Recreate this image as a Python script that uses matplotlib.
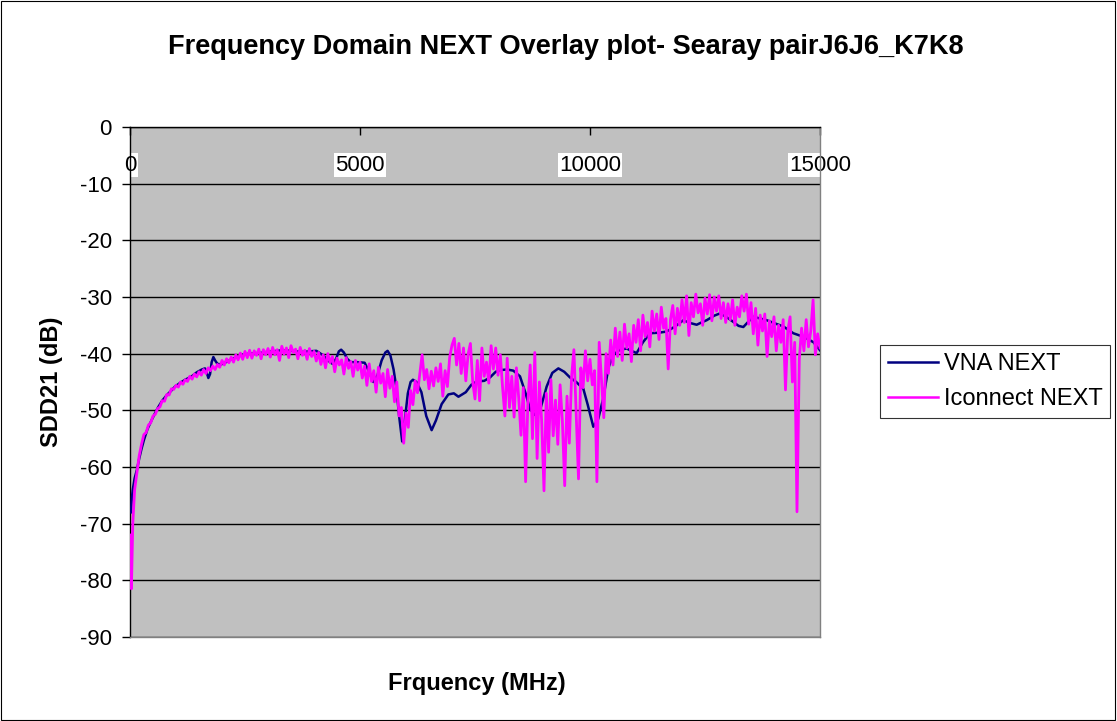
"""
Frequency Domain NEXT overlay: VNA measurement vs Iconnect simulation.
"""

import numpy as np
import matplotlib.pyplot as plt
from matplotlib.patches import Rectangle


vna_freq = [20, 40, 60, 100, 150, 200, 250, 300, 380, 471, 550, 616, 700,
            800, 900, 978, 1100, 1200, 1341, 1450, 1560, 1630, 1670, 1703,
            1740, 1775, 1812, 1850, 1900, 1980, 2065, 2200, 2428, 2600, 2790,
            3000, 3297, 3500, 3732, 3900, 4050, 4200, 4300, 4400, 4480, 4540,
            4590, 4650, 4720, 4800, 4950, 5100, 5200, 5290, 5380, 5470, 5550,
            5600, 5660, 5730, 5790, 5850, 5917, 5970, 6040, 6100, 6150, 6230,
            6335, 6440, 6557, 6650, 6775, 6920, 7040, 7140, 7300, 7420, 7540,
            7700, 7826, 7950, 8043, 8200, 8333, 8478, 8600, 8696, 8800, 8913,
            9000, 9058, 9180, 9312, 9440, 9565, 9700, 9855, 9950, 10072,
            10180, 10290, 10400, 10507, 10650, 10797, 10900, 11014, 11150,
            11304, 11500, 11667, 11850, 12029, 12180, 12319, 12450, 12536,
            12700, 12826, 12980, 13116, 13230, 13333, 13450, 13551, 13700,
            13841, 14000, 14203, 14420, 14560, 14710, 14860, 15000]
vna_db = [-68.0, -65.5, -64.0, -62.0, -60.5, -58.5, -56.8, -55.3, -53.3, -51.7,
          -50.4, -49.4, -48.3, -47.3, -46.5, -45.8, -45.1, -44.6, -44.0, -43.3,
          -42.8, -42.6, -43.4, -44.3, -43.6, -41.5, -40.6, -41.2, -41.8, -41.9,
          -41.6, -41.0, -40.2, -40.0, -39.9, -39.7, -39.4, -39.5, -39.7, -39.6,
          -39.5, -40.3, -41.2, -41.8, -40.9, -39.6, -39.3, -39.8, -40.9, -41.5,
          -41.5, -41.6, -43.2, -45.0, -43.8, -41.2, -39.8, -39.5, -40.3, -42.8,
          -46.0, -51.0, -55.5, -52.0, -47.0, -45.0, -44.6, -45.0, -46.8, -51.0,
          -53.5, -51.8, -48.9, -47.2, -47.0, -47.6, -46.8, -45.5, -44.9, -44.8,
          -44.2, -43.2, -42.9, -42.8, -43.0, -44.0, -47.0, -49.8, -50.8, -50.0,
          -47.5, -45.8, -43.4, -42.6, -43.2, -44.2, -45.0, -46.2, -49.0, -52.9,
          -51.5, -47.8, -42.5, -40.2, -39.3, -39.1, -39.5, -39.9, -38.0, -36.4,
          -36.3, -36.1, -35.2, -34.1, -34.6, -34.9, -34.4, -34.1, -33.3, -32.9,
          -33.6, -34.4, -35.1, -35.3, -34.3, -33.5, -33.8, -34.1, -34.6, -35.2,
          -36.4, -36.8, -37.3, -38.0, -39.4]

# Iconnect NEXT (noisy simulated curve): first few low-frequency points,
# then a 50 MHz sweep from 300 MHz to 15000 MHz
iconnect_low_freq = [10, 30, 60, 100, 150, 200, 250]
iconnect_sweep_start = 300
iconnect_sweep_stop = 15000
iconnect_sweep_step = 50
iconnect_db = [
    -72.0, -81.5, -70.0, -64.0, -61.0, -58.0, -56.0,
    # 300 - 950
    -54.3, -53.9, -52.6, -52.2, -51.0, -50.7, -49.7, -49.4, -48.3, -48.4,
    -47.2, -47.3, -46.2, -46.3,
    # 1000 - 1950
    -45.6, -45.9, -45.0, -45.4, -44.6, -44.9, -44.0, -44.5, -43.6, -44.1,
    -43.2, -43.8, -42.8, -43.5, -42.5, -43.0, -42.2, -42.8, -41.9, -42.4,
    # 2000 - 2950
    -41.2, -42.0, -40.9, -41.6, -40.6, -41.5, -40.2, -41.1, -39.9, -41.0,
    -39.6, -40.7, -39.4, -40.8, -39.5, -40.3, -39.2, -40.9, -39.3, -40.2,
    # 3000 - 3950
    -39.1, -40.6, -38.9, -40.2, -39.3, -41.2, -38.7, -40.1, -39.0, -40.7,
    -38.6, -39.8, -39.2, -40.9, -38.9, -40.3, -39.4, -41.0, -39.1, -40.5,
    # 4000 - 4950
    -39.6, -41.3, -39.8, -41.9, -40.2, -42.5, -40.0, -41.6, -40.5, -43.2,
    -40.8, -42.0, -41.1, -43.6, -40.7, -42.6, -41.4, -44.0, -41.2, -42.9,
    # 5000 - 5950
    -41.5, -44.3, -42.2, -45.6, -41.8, -44.9, -43.0, -46.8, -42.4, -45.2,
    -43.5, -47.6, -42.8, -46.1, -44.0, -48.5, -45.0, -51.0, -49.5, -55.8,
    # 6000 - 6950
    -50.5, -53.0, -46.5, -49.0, -44.8, -46.9, -43.5, -40.2, -44.6, -42.8,
    -46.2, -43.1, -45.7, -42.5, -44.9, -41.8, -47.5, -43.0, -45.8, -40.6,
    # 7000 - 7950
    -38.5, -37.3, -42.0, -38.2, -43.5, -39.0, -44.8, -40.1, -38.2, -45.0,
    -48.0, -41.2, -48.3, -39.0, -44.0, -41.5, -45.2, -38.6, -42.7, -39.0,
    # 8000 - 8950
    -43.8, -40.2, -46.0, -51.0, -40.8, -49.5, -44.0, -51.2, -42.5, -47.8,
    -54.4, -46.0, -62.6, -48.5, -42.0, -55.0, -39.8, -58.5, -45.0, -52.0,
    # 9000 - 9950
    -64.2, -47.0, -57.4, -44.6, -54.5, -48.2, -56.0, -45.5, -52.0, -63.3,
    -47.5, -55.8, -44.0, -39.3, -50.5, -62.1, -42.5, -46.0, -39.5, -44.8,
    # 10000 - 10950
    -41.0, -45.5, -43.0, -62.6, -38.0, -44.5, -51.3, -40.0, -43.5, -37.6,
    -42.0, -35.5, -40.5, -36.2, -41.2, -34.8, -39.0, -36.5, -41.4, -35.0,
    # 11000 - 11950
    -38.0, -34.0, -39.5, -33.2, -37.0, -34.5, -38.8, -32.5, -36.0, -33.0,
    -37.5, -31.8, -35.5, -33.8, -42.7, -34.0, -31.5, -36.5, -32.0, -35.0,
    # 12000 - 12950
    -30.5, -34.5, -29.8, -36.8, -31.0, -33.5, -29.5, -32.8, -31.2, -35.0,
    -30.2, -33.0, -29.6, -34.2, -30.0, -32.5, -29.8, -33.8, -31.0, -34.5,
    # 13000 - 13950
    -31.2, -34.0, -30.5, -35.0, -31.8, -33.5, -29.8, -32.5, -29.5, -34.8,
    -31.0, -36.5, -32.0, -38.5, -33.2, -36.0, -33.0, -40.5, -34.2, -37.0,
    # 14000 - 15000
    -33.5, -39.5, -35.0, -38.0, -34.0, -46.4, -36.0, -33.5, -45.0, -38.0,
    -67.9, -41.0, -35.5, -39.5, -34.0, -38.8, -36.0, -30.5, -40.2, -36.5,
    -39.0,
]

x_ticks = [0, 5000, 10000, 15000]
y_ticks = [0, -10, -20, -30, -40, -50, -60, -70, -80, -90]


def main():
    plt.rcParams['font.family'] = ['Liberation Sans', 'DejaVu Sans']
    plt.rcParams['axes.unicode_minus'] = False

    iconnect_freq = np.concatenate([
        iconnect_low_freq,
        np.arange(iconnect_sweep_start, iconnect_sweep_stop + 1,
                  iconnect_sweep_step),
    ])

    fig = plt.figure(figsize=(11.17, 7.21), dpi=100)
    fig.add_artist(Rectangle((0.0005, 0.0008), 0.998, 0.998,
                             transform=fig.transFigure, fill=False,
                             edgecolor='black', linewidth=0.8))

    ax = fig.add_axes([0.1164, 0.1165, 0.6177, 0.7074])
    ax.set_facecolor('#C0C0C0')

    ax.plot(vna_freq, vna_db, color='#000080', linewidth=1.8,
            label='VNA NEXT', zorder=3)
    ax.plot(iconnect_freq, iconnect_db, color='#FF00FF', linewidth=2.0,
            label='Iconnect NEXT', zorder=4)

    ax.set_xlim(0, 15000)
    ax.set_ylim(-90, 0)

    ax.set_yticks(y_ticks)
    ax.tick_params(axis='y', direction='out', length=6, width=1,
                   labelsize=16, pad=7)
    ax.yaxis.grid(True, color='black', linewidth=1.0)
    ax.set_axisbelow(True)

    ax.set_xticks(x_ticks)
    ax.xaxis.tick_top()
    ax.tick_params(axis='x', direction='in', length=6, width=1,
                   labelsize=16, pad=-35)
    for lbl in ax.get_xticklabels():
        lbl.set_bbox(dict(facecolor='white', edgecolor='none', pad=1.0))

    ax.spines['left'].set_color('black')
    ax.spines['top'].set_color('black')
    ax.spines['right'].set_color('#808080')
    ax.spines['bottom'].set_color('#808080')
    for sp in ax.spines.values():
        sp.set_linewidth(1.0)

    ax.set_ylabel('SDD21 (dB)', fontsize=17, fontweight='bold', labelpad=12)
    fig.text(0.4270, 0.0527, 'Frquency (MHz)', fontsize=17,
             fontweight='bold', ha='center', va='center')
    fig.text(0.5067, 0.9348,
             'Frequency Domain NEXT Overlay plot- Searay pairJ6J6_K7K8',
             fontsize=19.5, fontweight='bold', ha='center', va='center')

    leg = ax.legend(loc='upper left', bbox_to_anchor=(1.087, 0.5725),
                    fontsize=17, frameon=True, fancybox=False,
                    handlelength=2.1, borderpad=0.34, labelspacing=0.56,
                    handletextpad=0.25, borderaxespad=0)
    leg.get_frame().set_edgecolor('black')
    leg.get_frame().set_linewidth(0.8)
    for line in leg.get_lines():
        line.set_linewidth(1.8)

    fig.savefig('out.png', dpi=100)


if __name__ == '__main__':
    main()
